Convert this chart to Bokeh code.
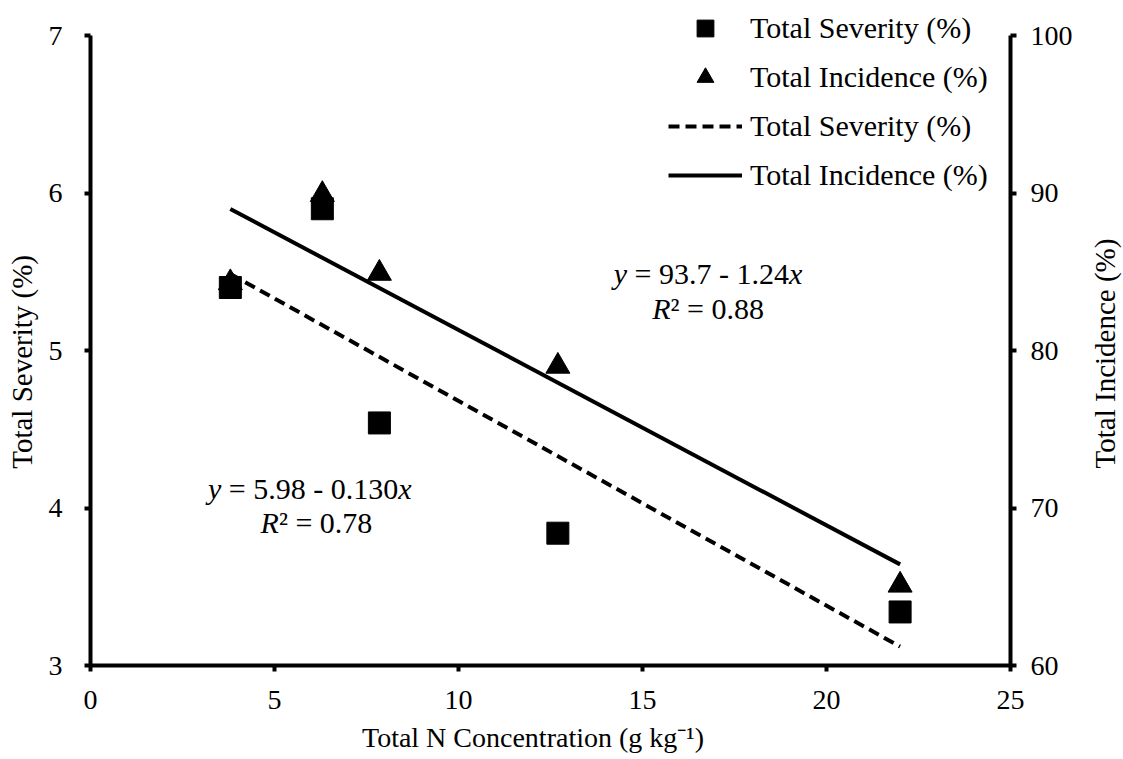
import math

from bokeh.plotting import figure
from bokeh.layouts import row
from bokeh.models import (Range1d, LinearAxis, FixedTicker, Legend, LegendItem,
                          Label, ColumnDataSource)
from bokeh.embed import file_html
from bokeh.resources import INLINE

# --- data -------------------------------------------------------------
n_conc = [3.8, 6.3, 7.85, 12.7, 22.0]          # Total N concentration (g kg-1)
severity = [5.40, 5.90, 4.54, 3.84, 3.34]      # Total severity (%)
incidence = [84.3, 89.9, 84.9, 79.0, 65.1]     # Total incidence (%)

# linear fits: intercept, slope, R^2
sev_fit = (5.98, -0.130, 0.78)
inc_fit = (93.7, -1.24, 0.88)

x_ticks = [0, 5, 10, 15, 20, 25]
sev_ticks = [3, 4, 5, 6, 7]
inc_ticks = [60, 70, 80, 90, 100]

FONT = "Liberation Serif"
NBSP = "\u00a0"

# The frame reaches almost to the top of the canvas so the legend (which
# sits partly above the axes' top) is not clipped; axes are bounded to
# the visible value ranges.
HEAD = 28 / 630  # headroom above the axes' top, as a fraction of the span
sev_lo, sev_hi = sev_ticks[0], sev_ticks[-1]
inc_lo, inc_hi = inc_ticks[0], inc_ticks[-1]

W_MAIN, W_TITLE, H = 1083, 40, 759

# --- figure -----------------------------------------------------------
p = figure(width=W_MAIN, height=H, x_range=Range1d(0, 25),
           y_range=Range1d(sev_lo, sev_hi + HEAD * (sev_hi - sev_lo)),
           output_backend="svg", toolbar_location=None,
           min_border_left=90, min_border_right=73,
           min_border_top=7, min_border_bottom=94)
p.outline_line_color = None
p.xgrid.visible = False
p.ygrid.visible = False
p.background_fill_color = "white"
p.border_fill_color = "white"
p.extra_y_ranges = {"inc": Range1d(inc_lo, inc_hi + HEAD * (inc_hi - inc_lo))}
p.add_layout(LinearAxis(y_range_name="inc"), "right")


def style_axis(ax, ticks, label, standoff, label_standoff, label_size="29px"):
    ax.ticker = FixedTicker(ticks=ticks)
    ax.bounds = (ticks[0], ticks[-1])
    ax.axis_label = label
    ax.axis_line_width = 4
    ax.axis_line_color = "black"
    ax.major_tick_line_width = 4
    ax.major_tick_line_color = "black"
    ax.major_tick_out = 6
    ax.major_tick_in = 0
    ax.minor_tick_out = 0
    ax.minor_tick_in = 0
    ax.major_label_text_font = FONT
    ax.major_label_text_font_size = "28px"
    ax.major_label_text_color = "black"
    ax.major_label_standoff = standoff
    ax.axis_label_text_font = FONT
    ax.axis_label_text_font_size = label_size
    ax.axis_label_text_font_style = "normal"
    ax.axis_label_text_color = "black"
    ax.axis_label_standoff = label_standoff


style_axis(p.below[0], x_ticks,
           "Total N Concentration (g kg\u207b\u00b9)" + NBSP * 5, 19, 10, "28px")
style_axis(p.left[0], sev_ticks, "Total Severity (%)" + NBSP * 7, 22, 8)
style_axis(p.right[0], inc_ticks, None, 14, 0)

# --- points -----------------------------------------------------------
src = ColumnDataSource(dict(x=n_conc, sev=severity, inc=incidence))
tri = p.scatter("x", "inc", source=src, marker="triangle", size=24,
                fill_color="black", line_color="black", y_range_name="inc")
sq = p.scatter("x", "sev", source=src, marker="square", size=22,
               fill_color="black", line_color="black")

# --- fitted lines -----------------------------------------------------
fit_x = [min(n_conc), max(n_conc)]
sev_line_y = [sev_fit[0] + sev_fit[1] * v for v in fit_x]
inc_line_y = [inc_fit[0] + inc_fit[1] * v for v in fit_x]
dash = p.line(fit_x, sev_line_y, line_color="black", line_width=4, line_dash="11 6")
solid = p.line(fit_x, inc_line_y, line_color="black", line_width=4,
               y_range_name="inc")

# --- legend -----------------------------------------------------------
legend = Legend(items=[
    LegendItem(label="Total Severity (%)", renderers=[sq]),
    LegendItem(label="Total Incidence (%)", renderers=[tri]),
    LegendItem(label="Total Severity (%)", renderers=[dash]),
    LegendItem(label="Total Incidence (%)", renderers=[solid]),
], location=(578, 469))
legend.label_text_font = FONT
legend.label_text_font_size = "30px"
legend.label_text_color = "black"
legend.glyph_width = 74
legend.glyph_height = 42
legend.label_height = 42
legend.spacing = 7
legend.padding = 0
legend.margin = 0
legend.label_standoff = 8
legend.border_line_color = None
legend.background_fill_alpha = 0
p.add_layout(legend, "center")

# --- equation labels --------------------------------------------------
# Times-compatible advance widths (em) used to lay out mixed italic runs
ADV = {" ": 0.25, NBSP: 0.25, "=": 0.564, "-": 0.333, ".": 0.25, "\u00b2": 0.3}
ADV_IT = {"y": 0.444, "x": 0.444, "R": 0.611}


def run_width(txt, italic):
    tab = ADV_IT if italic else ADV
    return sum(tab.get(c, 0.5) for c in txt)


def rich_label(pieces, x, y, fs=30):
    total = sum(run_width(t, it) for t, it in pieces) * fs
    off = -total / 2
    for t, it in pieces:
        p.add_layout(Label(x=x, y=y, x_offset=off, text=t,
                           text_font=FONT, text_font_size=f"{fs}px",
                           text_font_style="italic" if it else "normal",
                           text_color="black", text_align="left",
                           text_baseline="middle"))
        off += run_width(t, it) * fs


def eq_text(fit, int_fmt, slope_fmt):
    return [("y", True),
            (f"{NBSP}= {fit[0]:{int_fmt}} - {abs(fit[1]):{slope_fmt}}", False),
            ("x", True)]


def r2_text(fit):
    return [("R", True), ("\u00b2", False), (f"{NBSP}= {fit[2]:.2f}", False)]


rich_label(eq_text(sev_fit, ".2f", ".3f"), 5.96, 4.124)
rich_label(r2_text(sev_fit), 6.14, 3.908)
rich_label(eq_text(inc_fit, ".1f", ".2f"), 16.78, 5.489)
rich_label(r2_text(inc_fit), 16.78, 5.267)

# --- right-hand axis title (reads bottom-to-top) -------------------------
t = figure(width=W_TITLE, height=H, x_range=Range1d(0, 1), y_range=Range1d(0, 1),
           output_backend="svg", toolbar_location=None,
           min_border=0, outline_line_color=None)
t.axis.visible = False
t.grid.visible = False
t.add_layout(Label(x=21, y=312, x_units="screen", y_units="screen",
                   text="Total Incidence (%)", angle=math.pi / 2,
                   text_font=FONT, text_font_size="29px", text_color="black",
                   text_align="center", text_baseline="middle"))

layout = row(p, t, spacing=0)
open("out.html", "w").write(file_html(layout, INLINE))
